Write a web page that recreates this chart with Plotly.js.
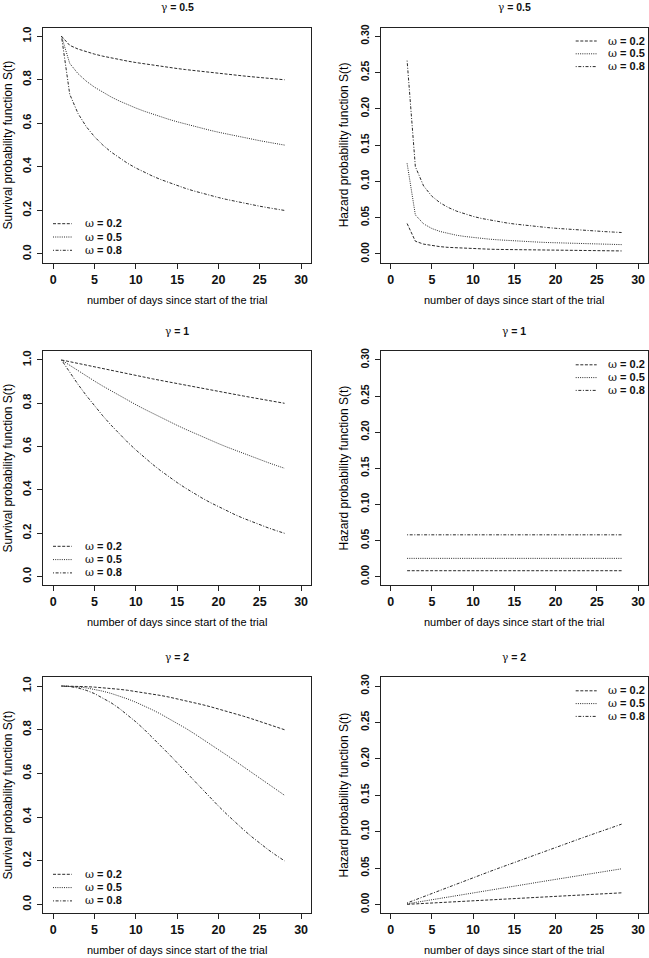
<!DOCTYPE html>
<html><head><meta charset="utf-8">
<script src="https://cdn.plot.ly/plotly-3.0.1.min.js"></script>
<style>html,body{margin:0;padding:0;background:#fff;overflow:hidden}</style>
</head><body><div id="chart" style="width:649px;height:958px"></div>
<script>
// ---------- data ----------
const days  = [1,2,3,4,5,6,7,8,9,10,11,12,13,14,15,16,17,18,19,20,21,22,23,24,25,26,27,28];
const hdays = [2,3,4,5,6,7,8,9,10,11,12,13,14,15,16,17,18,19,20,21,22,23,24,25,26,27,28];

const gammaLabels = ["γ = 0.5", "γ = 1", "γ = 2"];
const omegaLabels = ["ω = 0.2", "ω = 0.5", "ω = 0.8"];
const xTitle = "number of days since start of the trial";
const survTitle = "Survival probability function S(t)";
const hazTitle = "Hazard probability function S(t)";

const xTicks = [0, 5, 10, 15, 20, 25, 30];
const survTicks = [0, 0.2, 0.4, 0.6, 0.8, 1.0];
const survTickText = ["0.0", "0.2", "0.4", "0.6", "0.8", "1.0"];
const hazTicks = [0, 0.05, 0.10, 0.15, 0.20, 0.25, 0.30];
const hazTickText = ["0.00", "0.05", "0.10", "0.15", "0.20", "0.25", "0.30"];

// gamma = 0.5
const S_g05_w02 = [1, 0.9580, 0.9411, 0.9283, 0.9177, 0.9084, 0.9002, 0.8926, 0.8856, 0.8791, 0.8730, 0.8672, 0.8618, 0.8566, 0.8516, 0.8468, 0.8422, 0.8377, 0.8334, 0.8293, 0.8253, 0.8214, 0.8176, 0.8139, 0.8103, 0.8068, 0.8034, 0.8000];
const S_g05_w05 = [1, 0.8751, 0.8281, 0.7937, 0.7658, 0.7421, 0.7213, 0.7026, 0.6857, 0.6702, 0.6558, 0.6425, 0.6300, 0.6182, 0.6071, 0.5965, 0.5865, 0.5769, 0.5678, 0.5591, 0.5507, 0.5426, 0.5349, 0.5274, 0.5202, 0.5133, 0.5065, 0.5000];
const S_g05_w08 = [1, 0.7336, 0.6453, 0.5848, 0.5382, 0.5003, 0.4683, 0.4407, 0.4164, 0.3949, 0.3755, 0.3580, 0.3420, 0.3273, 0.3138, 0.3013, 0.2897, 0.2789, 0.2687, 0.2592, 0.2503, 0.2419, 0.2339, 0.2264, 0.2193, 0.2125, 0.2061, 0.2000];
const H_g05_w02 = [0.0420, 0.0176, 0.0136, 0.0114, 0.0101, 0.0091, 0.0084, 0.0078, 0.0073, 0.0069, 0.0066, 0.0063, 0.0061, 0.0058, 0.0056, 0.0054, 0.0053, 0.0051, 0.0050, 0.0048, 0.0047, 0.0046, 0.0045, 0.0044, 0.0043, 0.0042, 0.0042];
const H_g05_w05 = [0.1249, 0.0538, 0.0415, 0.0351, 0.0310, 0.0281, 0.0258, 0.0241, 0.0226, 0.0214, 0.0204, 0.0195, 0.0187, 0.0180, 0.0174, 0.0168, 0.0163, 0.0158, 0.0154, 0.0150, 0.0146, 0.0143, 0.0140, 0.0137, 0.0134, 0.0131, 0.0129];
const H_g05_w08 = [0.2664, 0.1204, 0.0937, 0.0796, 0.0705, 0.0640, 0.0590, 0.0550, 0.0518, 0.0490, 0.0467, 0.0447, 0.0429, 0.0413, 0.0399, 0.0386, 0.0374, 0.0364, 0.0354, 0.0345, 0.0336, 0.0328, 0.0321, 0.0314, 0.0308, 0.0302, 0.0296];

// gamma = 1
const S_g1_w02 = [1, 0.9918, 0.9836, 0.9755, 0.9675, 0.9595, 0.9516, 0.9438, 0.9360, 0.9283, 0.9207, 0.9131, 0.9056, 0.8981, 0.8907, 0.8834, 0.8761, 0.8689, 0.8618, 0.8547, 0.8477, 0.8407, 0.8338, 0.8269, 0.8201, 0.8134, 0.8067, 0.8000];
const S_g1_w05 = [1, 0.9747, 0.9500, 0.9259, 0.9024, 0.8795, 0.8572, 0.8355, 0.8143, 0.7937, 0.7736, 0.7540, 0.7349, 0.7162, 0.6981, 0.6804, 0.6632, 0.6463, 0.6300, 0.6140, 0.5984, 0.5833, 0.5685, 0.5541, 0.5400, 0.5263, 0.5130, 0.5000];
const S_g1_w08 = [1, 0.9421, 0.8876, 0.8362, 0.7879, 0.7423, 0.6993, 0.6588, 0.6207, 0.5848, 0.5510, 0.5191, 0.4890, 0.4607, 0.4341, 0.4090, 0.3853, 0.3630, 0.3420, 0.3222, 0.3036, 0.2860, 0.2694, 0.2539, 0.2392, 0.2253, 0.2123, 0.2000];
const H_g1_w02 = [0.0082, 0.0082, 0.0082, 0.0082, 0.0082, 0.0082, 0.0082, 0.0082, 0.0082, 0.0082, 0.0082, 0.0082, 0.0082, 0.0082, 0.0082, 0.0082, 0.0082, 0.0082, 0.0082, 0.0082, 0.0082, 0.0082, 0.0082, 0.0082, 0.0082, 0.0082, 0.0082];
const H_g1_w05 = [0.0253, 0.0253, 0.0253, 0.0253, 0.0253, 0.0253, 0.0253, 0.0253, 0.0253, 0.0253, 0.0253, 0.0253, 0.0253, 0.0253, 0.0253, 0.0253, 0.0253, 0.0253, 0.0253, 0.0253, 0.0253, 0.0253, 0.0253, 0.0253, 0.0253, 0.0253, 0.0253];
const H_g1_w08 = [0.0579, 0.0579, 0.0579, 0.0579, 0.0579, 0.0579, 0.0579, 0.0579, 0.0579, 0.0579, 0.0579, 0.0579, 0.0579, 0.0579, 0.0579, 0.0579, 0.0579, 0.0579, 0.0579, 0.0579, 0.0579, 0.0579, 0.0579, 0.0579, 0.0579, 0.0579, 0.0579];

// gamma = 2
const S_g2_w02 = [1, 0.9997, 0.9988, 0.9972, 0.9951, 0.9924, 0.9890, 0.9851, 0.9806, 0.9755, 0.9699, 0.9636, 0.9569, 0.9496, 0.9418, 0.9334, 0.9246, 0.9153, 0.9056, 0.8954, 0.8848, 0.8737, 0.8623, 0.8505, 0.8384, 0.8259, 0.8131, 0.8000];
const S_g2_w05 = [1, 0.9990, 0.9962, 0.9915, 0.9849, 0.9765, 0.9663, 0.9545, 0.9410, 0.9259, 0.9093, 0.8913, 0.8720, 0.8516, 0.8300, 0.8074, 0.7839, 0.7597, 0.7349, 0.7094, 0.6836, 0.6575, 0.6312, 0.6047, 0.5783, 0.5520, 0.5258, 0.5000];
const S_g2_w08 = [1, 0.9978, 0.9912, 0.9803, 0.9653, 0.9463, 0.9236, 0.8975, 0.8682, 0.8362, 0.8019, 0.7656, 0.7276, 0.6886, 0.6488, 0.6085, 0.5682, 0.5283, 0.4890, 0.4507, 0.4135, 0.3777, 0.3435, 0.3110, 0.2804, 0.2516, 0.2248, 0.2000];
const H_g2_w02 = [0.0003, 0.0009, 0.0015, 0.0021, 0.0027, 0.0034, 0.0040, 0.0046, 0.0052, 0.0058, 0.0064, 0.0070, 0.0076, 0.0082, 0.0088, 0.0094, 0.0100, 0.0107, 0.0113, 0.0119, 0.0125, 0.0131, 0.0137, 0.0143, 0.0149, 0.0155, 0.0161];
const H_g2_w05 = [0.0010, 0.0028, 0.0047, 0.0066, 0.0085, 0.0104, 0.0123, 0.0142, 0.0160, 0.0179, 0.0198, 0.0216, 0.0235, 0.0253, 0.0272, 0.0290, 0.0309, 0.0327, 0.0346, 0.0364, 0.0382, 0.0401, 0.0419, 0.0437, 0.0455, 0.0473, 0.0491];
const H_g2_w08 = [0.0022, 0.0066, 0.0110, 0.0153, 0.0197, 0.0240, 0.0283, 0.0326, 0.0368, 0.0411, 0.0453, 0.0495, 0.0537, 0.0579, 0.0620, 0.0661, 0.0703, 0.0744, 0.0784, 0.0825, 0.0865, 0.0906, 0.0946, 0.0986, 0.1025, 0.1065, 0.1104];

// ---------- layout / styling ----------
const W = 649, H = 958;
const FONT = "Liberation Sans, Arial, Helvetica, sans-serif";
const GREEK_FONT = "DejaVu Serif, Liberation Serif, serif";
const LINE_COLOR = "#2a2a2a";
const DASHES = ["3px,1.6px", "1px,1.2px", "1px,1.6px,3px,1.6px"];
const colPx = [[43.3, 311.0], [380.7, 648.0]];
const rowPx = [[27.5, 262.7], [351.3, 585.3], [677.3, 913.3]];

// render the leading Greek letter of a label in a serif face, like R's symbol font
function greek(label) {
  return '<span style="font-family:' + GREEK_FONT + ';font-weight:normal">' + label.charAt(0) + '</span>' + label.slice(1);
}

const panels = [
  {row: 0, col: 0, kind: "S", series: [S_g05_w02, S_g05_w05, S_g05_w08]},
  {row: 0, col: 1, kind: "H", series: [H_g05_w02, H_g05_w05, H_g05_w08]},
  {row: 1, col: 0, kind: "S", series: [S_g1_w02, S_g1_w05, S_g1_w08]},
  {row: 1, col: 1, kind: "H", series: [H_g1_w02, H_g1_w05, H_g1_w08]},
  {row: 2, col: 0, kind: "S", series: [S_g2_w02, S_g2_w05, S_g2_w08]},
  {row: 2, col: 1, kind: "H", series: [H_g2_w02, H_g2_w05, H_g2_w08]}
];

const data = [];
const layout = {
  width: W, height: H,
  margin: {l: 0, r: 0, t: 0, b: 0},
  paper_bgcolor: "#ffffff", plot_bgcolor: "#ffffff",
  showlegend: false,
  font: {family: FONT, color: "#000"},
  annotations: [], shapes: []
};

panels.forEach((p, idx) => {
  const n = idx + 1;
  const xa = "x" + (n > 1 ? n : "");
  const ya = "y" + (n > 1 ? n : "");
  const xKey = "xaxis" + (n > 1 ? n : "");
  const yKey = "yaxis" + (n > 1 ? n : "");
  const cx = colPx[p.col], ry = rowPx[p.row];
  const isS = p.kind === "S";
  const xs = isS ? days : hdays;

  p.series.forEach((ys, k) => {
    data.push({
      type: "scatter", mode: "lines", x: xs, y: ys,
      xaxis: xa, yaxis: ya, name: omegaLabels[k], showlegend: false,
      line: {color: LINE_COLOR, width: 1, dash: DASHES[k]},
      hoverinfo: "skip"
    });
  });

  const common = {
    showgrid: false, zeroline: false, showline: true, mirror: true,
    linecolor: "#222", linewidth: 1, ticks: "outside", ticklen: 5,
    tickwidth: 1, tickcolor: "#222", fixedrange: true
  };
  layout[xKey] = Object.assign({}, common, {
    domain: [cx[0] / W, cx[1] / W], anchor: ya,
    range: [-1.2, 31.2], tickmode: "array", tickvals: xTicks,
    ticktext: xTicks.map(String),
    tickfont: {family: FONT, size: 12.5, weight: "bold", color: "#111"}
  });
  layout[yKey] = Object.assign({}, common, {
    domain: [1 - ry[1] / H, 1 - ry[0] / H], anchor: xa,
    range: isS ? [-0.04, 1.04] : [-0.012, 0.312],
    tickmode: "array",
    tickvals: isS ? survTicks : hazTicks,
    ticktext: isS ? survTickText : hazTickText,
    tickangle: -90,
    ticklabelstandoff: 2,
    tickfont: {family: FONT, size: isS ? 11.5 : 10.5, weight: "bold", color: "#111"}
  });

  const xd = xa + " domain", yd = ya + " domain";
  // panel title
  layout.annotations.push({
    xref: xd, yref: yd, x: 0.5, y: 1, yshift: 20, xanchor: "center", yanchor: "middle",
    text: greek(gammaLabels[p.row]), showarrow: false,
    font: {family: FONT, size: 10.5, weight: "bold", color: "#111"}
  });
  // x axis title
  layout.annotations.push({
    xref: xd, yref: yd, x: 0.5, y: 0, yshift: -37, xanchor: "center", yanchor: "middle",
    text: xTitle, showarrow: false,
    font: {family: FONT, size: 11, color: "#000"}
  });
  // y axis title
  layout.annotations.push({
    xref: xd, yref: yd, x: 0, y: 0.5, xshift: isS ? -35 : -36.5, xanchor: "center", yanchor: "middle",
    text: isS ? survTitle : hazTitle, textangle: -90, showarrow: false,
    font: {family: FONT, size: 12, color: "#000"}
  });

  // legend (drawn inside the box, like the original)
  const boxW = cx[1] - cx[0], boxH = ry[1] - ry[0];
  for (let k = 0; k < 3; k++) {
    let yFrac, x0, x1, xt;
    if (isS) {
      yFrac = (39 - 13.3 * k) / boxH;
      x0 = 9.7 / boxW; x1 = 28.7 / boxW; xt = 39.7 / boxW;
    } else {
      yFrac = 1 - (13.5 + 12.8 * k) / boxH;
      x0 = 195 / boxW; x1 = 216 / boxW; xt = 225 / boxW;
    }
    layout.shapes.push({
      type: "line", xref: xd, yref: yd, x0: x0, x1: x1, y0: yFrac, y1: yFrac,
      line: {color: LINE_COLOR, width: 1, dash: DASHES[k]}
    });
    layout.annotations.push({
      xref: xd, yref: yd, x: xt, y: yFrac, xanchor: "left", yanchor: "middle",
      text: greek(omegaLabels[k]), showarrow: false,
      font: {family: FONT, size: 11, weight: "bold", color: "#111"}
    });
  }
});

Plotly.newPlot("chart", data, layout, {displayModeBar: false, staticPlot: true});
</script>
</body></html>
